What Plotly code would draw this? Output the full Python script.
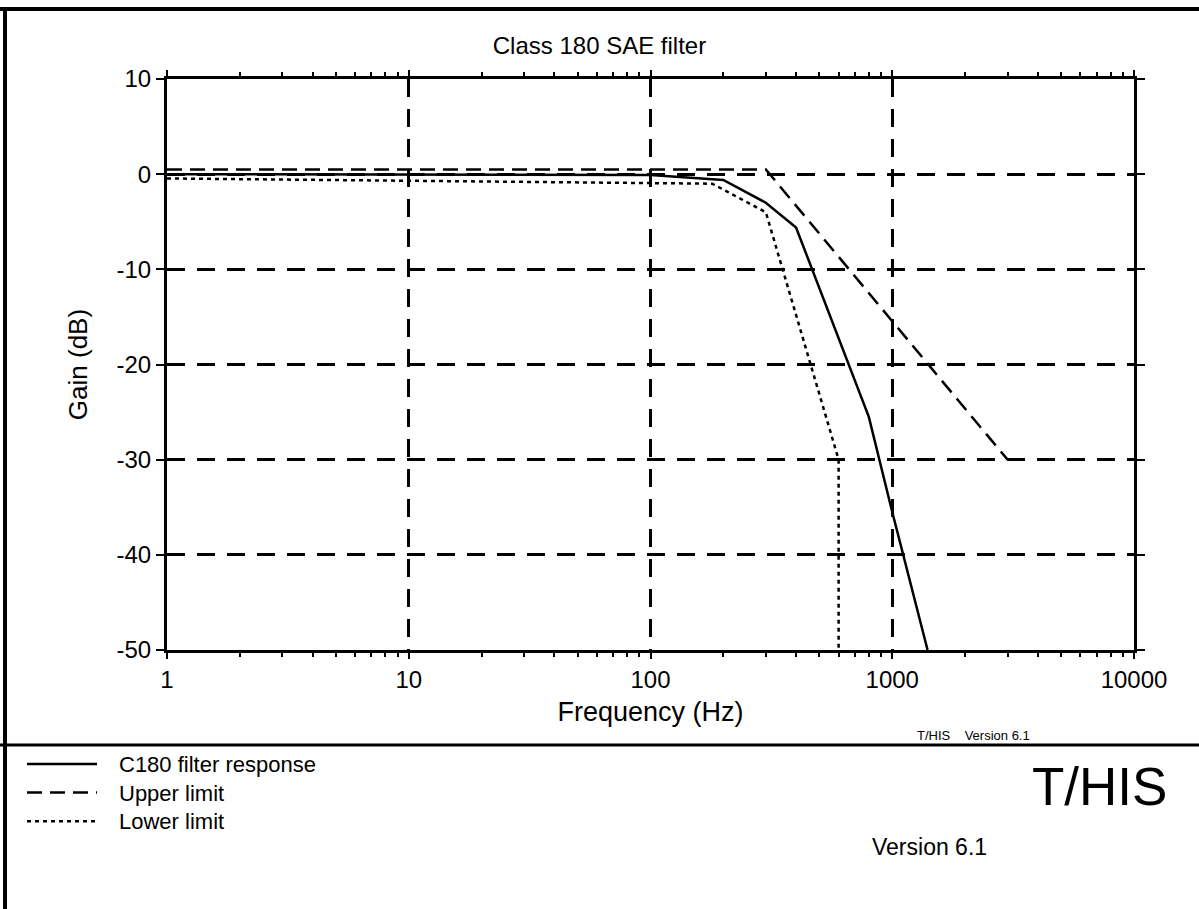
import plotly.graph_objects as go

# data (frequency in Hz, gain in dB)
response_freq = [1, 100, 200, 300, 400, 800, 1000, 1400]
response_gain = [0, -0.1, -0.6, -3, -5.6, -25.5, -35.5, -50]

upper_freq = [1, 300, 3000]
upper_gain = [0.5, 0.5, -30]

lower_freq = [1, 180, 300, 600, 600]
lower_gain = [-0.45, -1.0, -4, -30, -50]

series_names = ["C180 filter response", "Upper limit", "Lower limit"]
series_dash = ["solid", "15px,8px", "4px,4px"]
series_xaxis = ["x", "x2", "x"]  # upper limit sits on the top twin axis (same scale) so it gets drawn

x_tickvals = [1, 10, 100, 1000, 10000]
x_ticktext = ["1", "10", "100", "1000", "10000"]
x_minor = [m * 10 ** k for k in range(4) for m in range(2, 10)]
y_tickvals = [10, 0, -10, -20, -30, -40, -50]
y_ticktext = ["10", "0", "-10", "-20", "-30", "-40", "-50"]

W, H = 1199, 909
L, R, T, B = 167, 1134, 79, 650
FONT = "Liberation Sans, Arial, sans-serif"


def px(x):
    return (x - L) / (R - L)


def py(y):
    return (B - y) / (B - T)


fig = go.Figure()
data = [(response_freq, response_gain), (upper_freq, upper_gain), (lower_freq, lower_gain)]
for (fx, gy), name, dash, xa in zip(data, series_names, series_dash, series_xaxis):
    fig.add_trace(go.Scatter(x=fx, y=gy, mode="lines", name=name, showlegend=False, xaxis=xa,
                             line=dict(color="black", width=2.5, dash=dash)))

shapes = []
annotations = []

# legend block under the separator: one multi-line label + a sample line per row
leg_font = 22
leg_top = 764
leg_step = leg_font * 1.3
for i, dash in enumerate(series_dash):
    yy = leg_top + i * leg_step
    shapes.append(dict(type="line", xref="paper", yref="paper", x0=px(27), x1=px(97), y0=py(yy), y1=py(yy),
                       line=dict(color="black", width=2.5, dash=dash)))
annotations.append(dict(text="<br>".join(series_names), xref="paper", yref="paper", x=px(117),
                        y=py(leg_top + leg_step), xanchor="left", yanchor="middle", align="left",
                        showarrow=False, font=dict(family=FONT, size=leg_font, color="black")))

# frame and separator
shapes.append(dict(type="line", xref="paper", yref="paper", x0=px(0), x1=px(W), y0=py(9), y1=py(9),
                   line=dict(color="black", width=4)))
shapes.append(dict(type="line", xref="paper", yref="paper", x0=px(5), x1=px(5), y0=py(9), y1=py(W),
                   line=dict(color="black", width=4)))
shapes.append(dict(type="line", xref="paper", yref="paper", x0=px(0), x1=px(W), y0=py(745), y1=py(745),
                   line=dict(color="black", width=3)))

annotations.append(dict(text="T/HIS\u00a0\u00a0\u00a0\u00a0Version 6.1", xref="paper", yref="paper", x=px(973),
                        y=py(735), xanchor="center", yanchor="middle", showarrow=False,
                        font=dict(family=FONT, size=13, color="black")))
annotations.append(dict(text="T/HIS", xref="paper", yref="paper", x=px(1169), y=py(786),
                        xanchor="right", yanchor="middle", showarrow=False,
                        font=dict(family=FONT, size=53, color="black")))
annotations.append(dict(text="Version 6.1", xref="paper", yref="paper", x=px(929), y=py(847),
                        xanchor="center", yanchor="middle", showarrow=False,
                        font=dict(family=FONT, size=23, color="black")))

axis_common = dict(showline=True, linewidth=3, linecolor="black", mirror="ticks",
                   ticks="outside", tickwidth=2, tickcolor="black",
                   showgrid=True, gridcolor="black", gridwidth=3, griddash="18px,12px",
                   tickfont=dict(family=FONT, size=24, color="black"), zeroline=False)

fig.update_layout(xaxis=dict(type="log", range=[0, 4], tickvals=x_tickvals, ticktext=x_ticktext, ticklen=6,
                             minor=dict(tickmode="array", tickvals=x_minor, ticks="outside", ticklen=4,
                                        tickwidth=2, tickcolor="black", showgrid=False),
                             title=dict(text="Frequency (Hz)", font=dict(family=FONT, size=27, color="black"),
                                        standoff=11),
                             **axis_common),
                  xaxis2=dict(type="log", range=[0, 4], overlaying="x", side="top", anchor="y",
                              tickvals=x_minor, ticks="outside", ticklen=4, tickwidth=2, tickcolor="black",
                              showticklabels=False, showgrid=False, showline=False, zeroline=False),
                  yaxis=dict(range=[-50, 10], tickvals=y_tickvals, ticktext=y_ticktext, ticklen=8,
                             title=dict(text="Gain (dB)", font=dict(family=FONT, size=26, color="black"),
                                        standoff=22),
                             **axis_common))

fig.update_layout(width=W, height=H, margin=dict(l=L, r=W - R, t=T, b=H - B),
                  paper_bgcolor="white", plot_bgcolor="white",
                  title=dict(text="Class 180 SAE filter", x=0.5, xanchor="center", yref="container",
                             y=1 - 46 / H, yanchor="middle", font=dict(family=FONT, size=24, color="black")),
                  shapes=shapes, annotations=annotations, showlegend=False)

fig.write_html("out.html", config={"displayModeBar": False},
               post_script="document.body.style.margin='0';document.body.style.padding='0';")
